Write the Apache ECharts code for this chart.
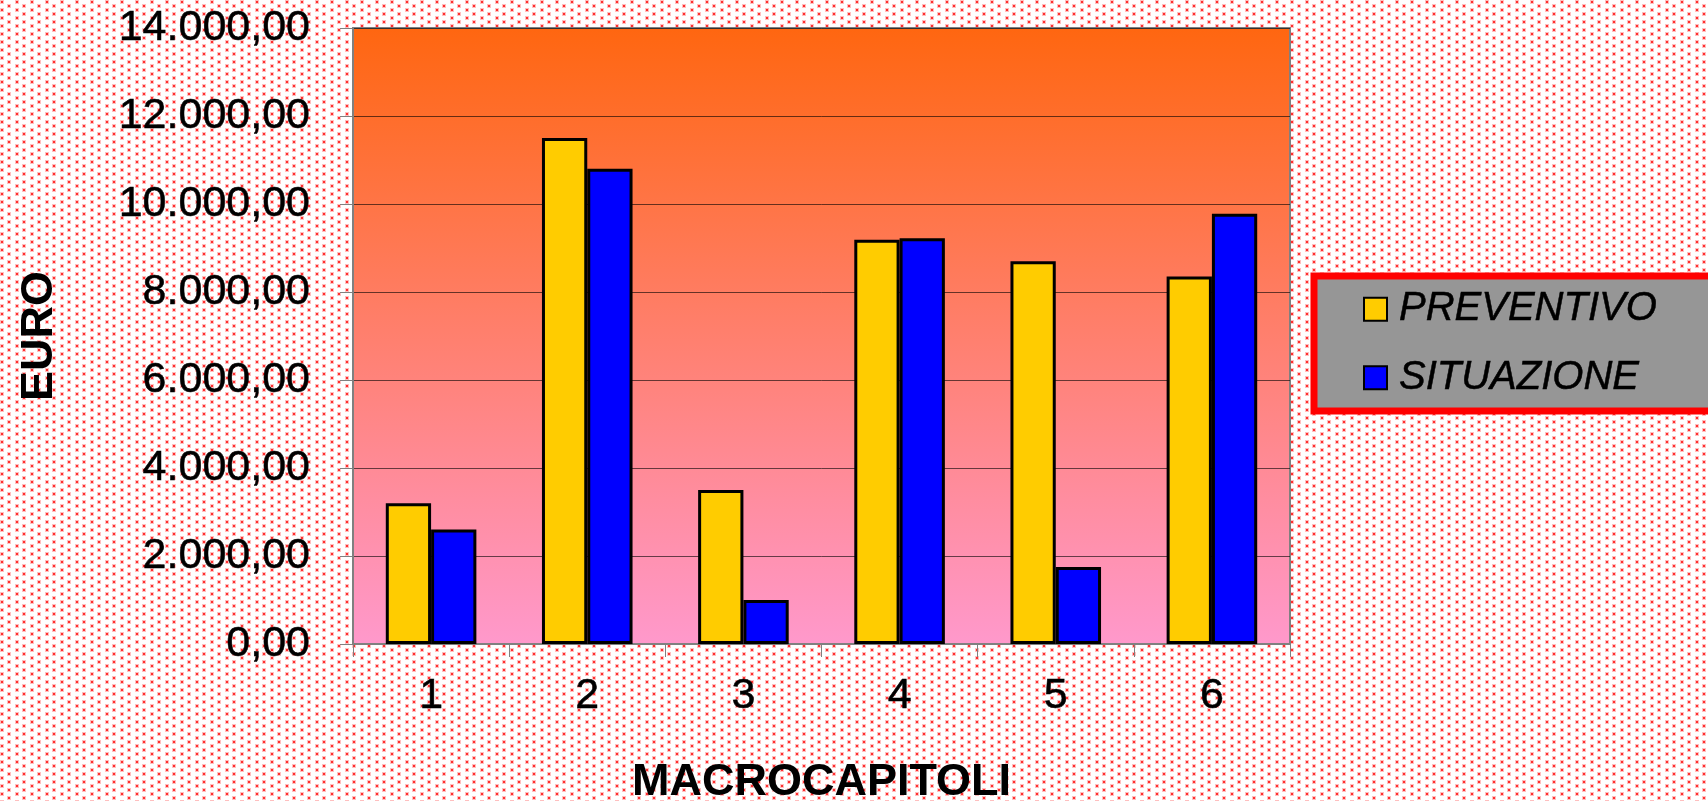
<!DOCTYPE html>
<html>
<head>
<meta charset="utf-8">
<script src="https://cdn.jsdelivr.net/npm/echarts@6/dist/echarts.min.js"></script>
<style>
html,body{margin:0;padding:0;background:#fff;}
#chart{width:1708px;height:801px;}
</style>
</head>
<body>
<div id="chart"></div>
<script>
const categories = ['1', '2', '3', '4', '5', '6'];
const preventivo = [3200, 11500, 3500, 9190, 8700, 8350];
const situazione = [2600, 10800, 1000, 9220, 1750, 9780];
const seriesNames = ['PREVENTIVO', 'SITUAZIONE'];
const yTicks = { min: 0, max: 14000, interval: 2000 };

// dotted background tile
const tile = document.createElement('canvas');
tile.width = 15; tile.height = 8;
const tctx = tile.getContext('2d');
tctx.fillStyle = '#ffffff';
tctx.fillRect(0, 0, 15, 8);
tctx.fillStyle = 'rgba(255,0,0,0.25)';
tctx.fillRect(0, 0, 4, 4);
tctx.fillRect(7, 4, 4, 4);
tctx.fillStyle = 'rgba(255,0,0,0.75)';
tctx.fillRect(1, 1, 2, 2);
tctx.fillRect(8, 5, 2, 2);

function fmt(v) {
  const s = Math.round(v).toString().replace(/\B(?=(\d{3})+(?!\d))/g, '.');
  return s + ',00';
}

const chart = echarts.init(document.getElementById('chart'), null, { renderer: 'canvas' });
const font = 'Liberation Sans, Arial, sans-serif';
const heavy = { textBorderColor: '#000', textBorderWidth: 0.5 };
chart.setOption({
  backgroundColor: { image: tile, repeat: 'repeat' },
  animation: false,
  grid: {
    left: 353, right: 418, top: 28, bottom: 157,
    containLabel: false,
    outerBoundsMode: 'none',
    show: true,
    borderColor: '#808080', borderWidth: 2,
    backgroundColor: new echarts.graphic.LinearGradient(0, 0, 0, 1, [
      { offset: 0, color: '#FF6610' },
      { offset: 1, color: '#FF99CC' }
    ])
  },
  legend: {
    orient: 'vertical',
    left: 1314, top: 276,
    width: 389,
    backgroundColor: '#969696',
    borderColor: '#FF0000', borderWidth: 7, borderRadius: 0,
    padding: [13, 200, 13, 49],
    icon: 'rect',
    itemWidth: 23, itemHeight: 23,
    itemGap: 28,
    itemStyle: { borderColor: '#000', borderWidth: 2 },
    textStyle: Object.assign({ fontFamily: font, fontSize: 40, fontStyle: 'italic', color: '#000', lineHeight: 40, padding: [0, 0, 0, 7] }, heavy),
    data: seriesNames
  },
  xAxis: {
    type: 'category',
    data: categories,
    name: 'MACROCAPITOLI',
    nameLocation: 'middle',
    nameGap: 116,
    nameTextStyle: { fontFamily: font, fontSize: 45, fontWeight: 'bold', color: '#000' },
    axisLine: { show: true, lineStyle: { color: '#808080', width: 2 } },
    axisTick: { show: true, length: 13, interval: 0, lineStyle: { color: '#808080', width: 1 } },
    axisLabel: Object.assign({ fontFamily: font, fontSize: 43, color: '#000', margin: 31 }, heavy)
  },
  yAxis: {
    type: 'value',
    min: yTicks.min, max: yTicks.max, interval: yTicks.interval,
    name: 'EURO',
    nameLocation: 'middle',
    nameRotate: 90,
    nameGap: 291,
    nameTextStyle: { fontFamily: font, fontSize: 45, fontWeight: 'bold', color: '#000' },
    axisLine: { show: true, lineStyle: { color: '#808080', width: 2 } },
    axisTick: { show: true, length: 13, lineStyle: { color: '#808080', width: 1 } },
    axisLabel: Object.assign({ fontFamily: font, fontSize: 43, color: '#000', margin: 43, formatter: fmt }, heavy),
    splitLine: { show: true, lineStyle: { color: 'rgba(0,0,0,0.6)', width: 1 } }
  },
  series: [
    {
      name: seriesNames[0], type: 'bar', data: preventivo,
      barGap: '0%', barCategoryGap: '42%',
      itemStyle: { color: '#FFCC00', borderColor: '#000', borderWidth: 3 }
    },
    {
      name: seriesNames[1], type: 'bar', data: situazione,
      barGap: '0%', barCategoryGap: '42%',
      itemStyle: { color: '#0000FF', borderColor: '#000', borderWidth: 3 }
    }
  ]
});
</script>
</body>
</html>
